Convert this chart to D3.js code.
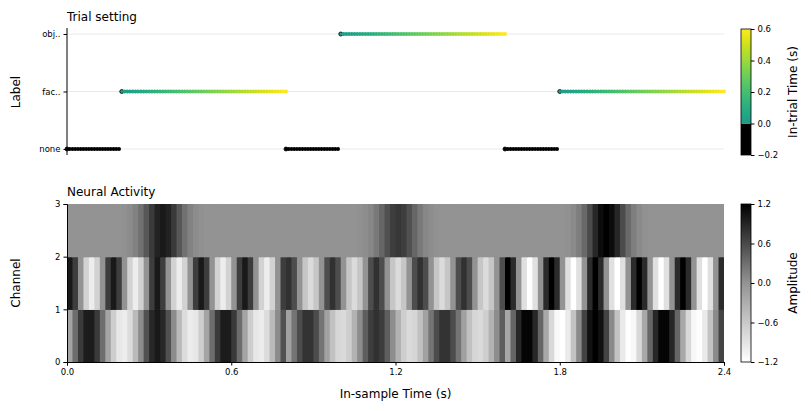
<!DOCTYPE html>
<html><head><meta charset="utf-8">
<script src="https://cdn.jsdelivr.net/npm/d3@7"></script>
<style>body{margin:0;background:#fff}text{font-family:"DejaVu Sans",sans-serif}</style>
</head><body><svg id="c" width="811" height="411"></svg>
<script>
// ---- data ----
const labelCats = ["none", "fac..", "obj.."];
const trialStart = [0.0, 0.2, 0.8, 1.0, 1.6, 1.8];
const trialEnd   = [0.2, 0.8, 1.0, 1.6, 1.8, 2.4];
const trialLabel = ["none", "fac..", "none", "obj..", "none", "fac.."];
const trialT0    = [-0.2, 0.0, -0.2, 0.0, -0.2, 0.0]; // in-trial time at start
const sampleStep = 0.01;
const timeTicks = [0.0, 0.6, 1.2, 1.8, 2.4];
const binWidth = 0.02;
// channel 0 (bottom row), 0.02 s bins
const ch0 = [
-0.19,0.31,0.73,0.97,0.97,0.73,0.31,-0.19,-0.64,-0.93,-0.99,-0.81,-0.43,0.06,0.54,0.88,1.0,0.88,0.54,0.06,
-0.43,-0.81,-0.99,-0.93,-0.64,-0.19,0.31,0.73,0.97,0.97,0.73,0.31,-0.19,-0.64,-0.93,-0.99,-0.81,-0.43,0.06,0.54,
-0.15,0.25,0.58,0.78,0.78,0.58,0.25,-0.15,-0.51,-0.74,-0.79,-0.65,-0.34,0.05,0.43,0.7,0.8,0.7,0.43,0.05,
-0.34,-0.65,-0.79,-0.74,-0.51,-0.15,0.25,0.58,0.78,0.78,0.58,0.25,-0.15,-0.51,-0.74,-0.79,-0.65,-0.34,0.05,0.43,
-0.23,0.37,0.88,1.16,1.16,0.88,0.37,-0.23,-0.77,-1.12,-1.19,-0.97,-0.52,0.07,0.65,1.06,1.2,1.06,0.65,0.07,
-0.52,-0.97,-1.19,-1.12,-0.77,-0.23,0.37,0.88,1.16,1.16,0.88,0.37,-0.23,-0.77,-1.12,-1.19,-0.97,-0.52,0.07,0.65];
// channel 1 (middle row)
const ch1 = [
1,0.7,0,-0.7,-1,-0.7,0,0.7, 1,0.7,0,-0.7,-1,-0.7,0,0.7, 1,0.7,0,-0.7,-1,-0.7,0,0.7, 1,0.7,0,-0.7,-1,-0.7,0,0.7, 1,0.7,0,-0.7,-1,-0.7,0,0.7,
0.8,0.57,0,-0.57,-0.8,-0.57,0,0.57, 0.8,0.57,0,-0.57,-0.8,-0.57,0,0.57, 0.8,0.57,0,-0.57,-0.8,-0.57,0,0.57, 0.8,0.57,0,-0.57,-0.8,-0.57,0,0.57, 0.8,0.57,0,-0.57,-0.8,-0.57,0,0.57,
1.2,0.85,0,-0.85,-1.2,-0.85,0,0.85, 1.2,0.85,0,-0.85,-1.2,-0.85,0,0.85, 1.2,0.85,0,-0.85,-1.2,-0.85,0,0.85, 1.2,0.85,0,-0.85,-1.2,-0.85,0,0.85, 1.2,0.85,0,-0.85,-1.2,-0.85,0,0.85];
// channel 2 (top row)
const ch2 = [
0,0,0,0,0,0,0,0,0,0,0.02,0.06,0.14,0.28,0.49,0.73,0.92,1.0,0.92,0.73,0.49,0.28,0.14,0.06,0.02,0,0,0,0,0,0,0,0,0,0,0,0,0,0,0,
0,0,0,0,0,0,0,0,0,0,0,0,0,0.02,0.05,0.1,0.21,0.37,0.55,0.69,0.75,0.69,0.55,0.37,0.21,0.1,0.05,0.02,0,0,0,0,0,0,0,0,0,0,0,0,
0,0,0,0,0,0,0,0,0,0,0,0.02,0.07,0.17,0.34,0.59,0.88,1.1,1.2,1.1,0.88,0.59,0.34,0.17,0.07,0.02,0,0,0,0,0,0,0,0,0,0,0,0,0,0];
const channels = [ch0, ch1, ch2];
const inTrialTicks = [-0.2, 0.0, 0.2, 0.4, 0.6];
const ampTicks = [-1.2, -0.6, 0.0, 0.6, 1.2];

// ---- drawing ----
const svg = d3.select("#c");
const L = 67, R = 724, TF = 8.5, LF = 12;
const x = d3.scaleLinear().domain([0, 2.4]).range([L, R]);
const yTop = d3.scalePoint().domain(labelCats).range([149, 34]);
const trialColor = t => t < 0 ? "#000" : d3.interpolateViridis(0.55 + 0.45 * Math.min(t, 0.6) / 0.6);

// top panel
const g1 = svg.append("g");
g1.selectAll(".grid").data(labelCats).join("line")
  .attr("x1", L).attr("x2", R).attr("y1", d => yTop(d)).attr("y2", d => yTop(d))
  .attr("stroke", "#e3e3e3").attr("stroke-width", 0.8);
const pts = [];
trialStart.forEach((s, i) => {
  const n = Math.round((trialEnd[i] - s) / sampleStep);
  const last = trialT0[i] < 0 ? n - 1 : n;
  for (let k = 0; k <= last; k++) pts.push({t: s + k * sampleStep, lab: trialLabel[i], it: trialT0[i] + k * sampleStep, first: k === 0});
});
g1.selectAll("circle").data(pts).join("circle")
  .attr("cx", d => x(d.t)).attr("cy", d => yTop(d.lab)).attr("r", 2)
  .attr("fill", d => trialColor(d.it))
  .attr("stroke", d => d.first ? "#000" : "none").attr("stroke-width", 0.8);
const ay1 = g1.append("g").attr("transform", `translate(${L},0)`)
  .call(d3.axisLeft(yTop).tickSize(3.5).tickPadding(3));
ay1.select(".domain").attr("d", `M0,28V155`);
ay1.selectAll("text").attr("font-size", TF).attr("font-family", "DejaVu Sans");
g1.append("text").attr("x", L).attr("y", 21).attr("font-size", LF).text("Trial setting");
g1.append("text").attr("transform", "translate(20,92) rotate(-90)").attr("text-anchor", "middle").attr("font-size", LF).text("Label");

// bottom heatmap
const yB = d3.scaleLinear().domain([0, 3]).range([362, 204]);
const gray = d3.scaleLinear().domain([-1.2, 0, 1.2]).range(["#ffffff", "#939393", "#000000"]).clamp(true);
const g2 = svg.append("g");
const cells = [];
channels.forEach((arr, c) => arr.forEach((v, i) => cells.push({c, i, v})));
g2.selectAll("rect").data(cells).join("rect")
  .attr("x", d => x(d.i * binWidth))
  .attr("width", d => Math.min(x((d.i + 1) * binWidth) + 1, R) - x(d.i * binWidth))
  .attr("y", d => yB(d.c + 1)).attr("height", d => yB(d.c) - yB(d.c + 1) + (d.c > 0 ? 0.6 : 0))
  .attr("fill", d => gray(d.v));
const ax2 = g2.append("g").attr("transform", "translate(0,362)")
  .call(d3.axisBottom(x).tickValues(timeTicks).tickFormat(d3.format(".1f")).tickSize(3.5));
ax2.selectAll("text").attr("font-size", TF).attr("font-family", "DejaVu Sans");
const ay2 = g2.append("g").attr("transform", `translate(${L},0)`)
  .call(d3.axisLeft(yB).tickValues([0, 1, 2, 3]).tickFormat(d3.format("d")).tickSize(3.5));
ay2.selectAll("text").attr("font-size", TF).attr("font-family", "DejaVu Sans");
g2.append("text").attr("x", L).attr("y", 196).attr("font-size", LF).text("Neural Activity");
g2.append("text").attr("transform", "translate(20,283) rotate(-90)").attr("text-anchor", "middle").attr("font-size", LF).text("Channel");
g2.append("text").attr("x", (L + R) / 2).attr("y", 398).attr("text-anchor", "middle").attr("font-size", LF).text("In-sample Time (s)");

// colorbars
const defs = svg.append("defs");
const cb1 = d3.scaleLinear().domain([-0.2, 0.6]).range([155, 29]);
const grad1 = defs.append("linearGradient").attr("id", "g1").attr("x1", 0).attr("x2", 0).attr("y1", 1).attr("y2", 0);
d3.range(0, 1.0001, 0.1).forEach(f => grad1.append("stop").attr("offset", f).attr("stop-color", trialColor(f * 0.6)));
svg.append("rect").attr("x", 741).attr("y", cb1(0)).attr("width", 10).attr("height", cb1(-0.2) - cb1(0)).attr("fill", "#000");
svg.append("rect").attr("x", 741).attr("y", cb1(0.6)).attr("width", 10).attr("height", cb1(0) - cb1(0.6)).attr("fill", "url(#g1)");
svg.append("rect").attr("x", 741).attr("y", 29).attr("width", 10).attr("height", 126).attr("fill", "none").attr("stroke", "#000").attr("stroke-width", 0.8);
const ac1 = svg.append("g").attr("transform", "translate(751,0)")
  .call(d3.axisRight(cb1).tickValues(inTrialTicks).tickFormat(d3.format(".1f")).tickSize(3.5));
ac1.select(".domain").remove();
ac1.selectAll("text").attr("font-size", TF).attr("font-family", "DejaVu Sans");
svg.append("text").attr("transform", "translate(797,92) rotate(-90)").attr("text-anchor", "middle").attr("font-size", LF).text("In-trial Time (s)");

const cb2 = d3.scaleLinear().domain([-1.2, 1.2]).range([362, 204]);
const grad2 = defs.append("linearGradient").attr("id", "g2").attr("x1", 0).attr("x2", 0).attr("y1", 1).attr("y2", 0);
d3.range(0, 1.0001, 0.1).forEach(f => grad2.append("stop").attr("offset", f).attr("stop-color", gray(-1.2 + 2.4 * f)));
svg.append("rect").attr("x", 741).attr("y", 204).attr("width", 10).attr("height", 158).attr("fill", "url(#g2)").attr("stroke", "#000").attr("stroke-width", 0.8);
const ac2 = svg.append("g").attr("transform", "translate(751,0)")
  .call(d3.axisRight(cb2).tickValues(ampTicks).tickFormat(d3.format(".1f")).tickSize(3.5));
ac2.select(".domain").remove();
ac2.selectAll("text").attr("font-size", TF).attr("font-family", "DejaVu Sans");
svg.append("text").attr("transform", "translate(797,283) rotate(-90)").attr("text-anchor", "middle").attr("font-size", LF).text("Amplitude");
</script></body></html>
